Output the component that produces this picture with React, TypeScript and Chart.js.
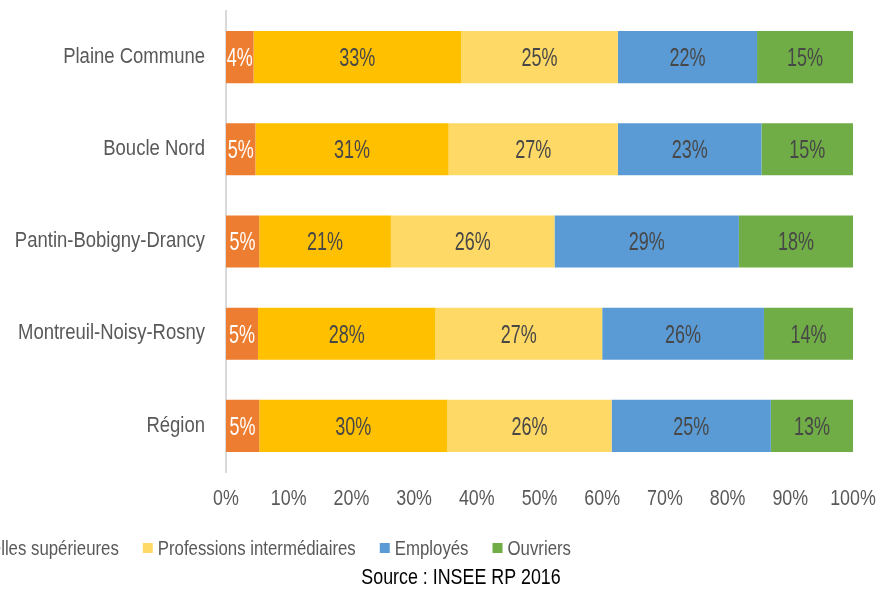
import React, { useEffect, useRef } from "react";
import { Chart, registerables } from "chart.js";

Chart.register(...registerables);

const categories = [
  "Plaine Commune",
  "Boucle Nord",
  "Pantin-Bobigny-Drancy",
  "Montreuil-Noisy-Rosny",
  "Région",
];
const seriesNames = [
  "Artisans, commerçants et chefs d'entreprise",
  "Cadres et professions intellectuelles supérieures",
  "Professions intermédiaires",
  "Employés",
  "Ouvriers",
];
const artisans = [4.4, 4.7, 5.3, 5.1, 5.3];
const cadres = [33.1, 30.8, 21.0, 28.3, 30.0];
const intermediaires = [25.0, 27.0, 26.1, 26.6, 26.2];
const employes = [22.2, 22.9, 29.4, 25.8, 25.4];
const ouvriers = [15.3, 14.6, 18.2, 14.2, 13.1];
const xTickValues = [0, 10, 20, 30, 40, 50, 60, 70, 80, 90, 100];
const seriesColors = ["#ED7D31", "#FFC000", "#FFD966", "#5B9BD5", "#70AD47"];
const labelColors = ["#FFFFFF", "#474747", "#474747", "#474747", "#474747"];
const sourceText = "Source : INSEE RP 2016";

const FONT = "'Liberation Sans', Arial, sans-serif";

function drawNarrow(ctx: any, text: string, x: number, y: number, size: number, sx: number, align: string, color: string) {
  ctx.save();
  ctx.font = `${size}px ${FONT}`;
  ctx.fillStyle = color;
  ctx.textAlign = align;
  ctx.textBaseline = "alphabetic";
  ctx.translate(x, y);
  ctx.scale(sx, 1);
  ctx.fillText(text, 0, 0);
  ctx.restore();
}

const valueLabelPlugin = {
  id: "valueLabels",
  afterDatasetsDraw(chart: any) {
    const ctx = chart.ctx;
    const size = 25;
    chart.data.datasets.forEach((ds: any, di: number) => {
      const meta = chart.getDatasetMeta(di);
      meta.data.forEach((el: any, i: number) => {
        const v = ds.data[i];
        const cx = (el.x + el.base) / 2;
        drawNarrow(ctx, Math.round(v) + "%", cx, el.y + 0.358 * size, size, 0.72, "center", labelColors[di]);
      });
    });
  },
};

const axisTextPlugin = {
  id: "axisText",
  afterDraw(chart: any) {
    const ctx = chart.ctx;
    const ys = chart.scales.y;
    const xs = chart.scales.x;
    categories.forEach((c, i) => {
      const y = ys.getPixelForValue(i);
      drawNarrow(ctx, c, 205, y + 5.7, 21.5, 0.86, "right", "#595959");
    });
    xTickValues.forEach((v) => {
      const x = xs.getPixelForValue(v);
      drawNarrow(ctx, v + "%", x, 505, 21.5, 0.83, "center", "#595959");
    });

    // legend
    ctx.save();
    const lsize = 20;
    const lsx = 0.84;
    ctx.font = `${lsize}px ${FONT}`;
    const box = 10;
    const gapBox = 5;
    const gapItem = 24;
    const widths = seriesNames.map((n) => ctx.measureText(n).width * lsx);
    ctx.restore();
    let total = 0;
    widths.forEach((w, i) => {
      total += box + gapBox + w + (i < widths.length - 1 ? gapItem : 0);
    });
    let x = 571 - total;
    const cy = 548;
    seriesNames.forEach((n, i) => {
      ctx.save();
      ctx.fillStyle = seriesColors[i];
      ctx.fillRect(x, cy - box / 2, box, box);
      ctx.restore();
      x += box + gapBox;
      drawNarrow(ctx, n, x, cy + 7, lsize, lsx, "left", "#595959");
      x += widths[i] + gapItem;
    });
    drawNarrow(ctx, sourceText, 461, 583.5, 21.5, 0.83, "center", "#000000");
  },
};

export default function App() {
  const ref = useRef<HTMLCanvasElement | null>(null);
  useEffect(() => {
    if (!ref.current) return;
    const data = [artisans, cadres, intermediaires, employes, ouvriers];
    const chart = new Chart(ref.current, {
      type: "bar",
      data: {
        labels: categories,
        datasets: data.map((d, i) => ({
          label: seriesNames[i],
          data: d,
          backgroundColor: seriesColors[i],
          borderWidth: 0,
          barPercentage: 0.565,
          categoryPercentage: 1,
        })),
      },
      options: {
        indexAxis: "y",
        responsive: true,
        maintainAspectRatio: false,
        animation: false,
        layout: { padding: { left: 0, right: 26, top: 11, bottom: 68 } },
        plugins: {
          legend: { display: false },
          tooltip: { enabled: false },
          title: { display: false },
        },
        scales: {
          x: {
            stacked: true,
            min: 0,
            max: 100,
            grid: { display: false, drawTicks: false },
            border: { display: false },
            ticks: {
              stepSize: 10,
              padding: 13,
              color: "rgba(0,0,0,0)",
              font: { family: FONT, size: 18 },
              callback: (v: any) => v + "%",
            },
            afterFit: (s: any) => {
              s.height = 50;
              s.paddingLeft = 0;
              s.paddingRight = 0;
            },
          },
          y: {
            stacked: true,
            grid: { display: false, drawTicks: false },
            border: { display: true, color: "#d9d9d9", width: 2 },
            ticks: {
              padding: 21,
              color: "rgba(0,0,0,0)",
              font: { family: FONT, size: 18 },
            },
            afterFit: (s: any) => {
              s.width = 226;
              s.paddingTop = 0;
              s.paddingBottom = 0;
            },
          },
        },
      },
      plugins: [valueLabelPlugin, axisTextPlugin],
    });
    return () => chart.destroy();
  }, []);
  return (
    <div style={{ position: "absolute", left: 0, top: 0, width: 879, height: 590, background: "#fff" }}>
      <canvas ref={ref} />
    </div>
  );
}
